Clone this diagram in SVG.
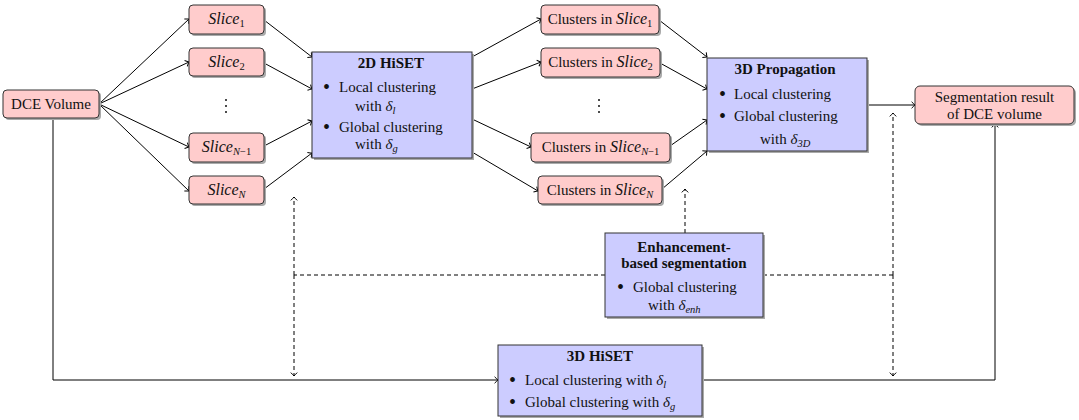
<svg xmlns="http://www.w3.org/2000/svg" width="1079" height="420" viewBox="0 0 1079 420" font-family="'Liberation Serif', 'DejaVu Serif', 'Times New Roman', serif">
<defs>
<marker id="arr" viewBox="-5 -5 10 10" refX="0" refY="0" markerWidth="10" markerHeight="10" markerUnits="userSpaceOnUse" orient="auto">
<path d="M-3.4,-3.2 Q-0.8,-0.6 0,0 Q-0.8,0.6 -3.4,3.2" fill="none" stroke="#000" stroke-width="1"/>
</marker>
</defs>
<style>
.pink{fill:#ffcccc;stroke:#333;stroke-width:1}
.blue{fill:#ccccff;stroke:#333;stroke-width:1}
.sh{fill:#aaaaaa}
text{font-family:'Liberation Serif','DejaVu Serif','Times New Roman',serif;font-size:15px;fill:#111}
.it{font-style:italic}
.m{font-size:16px}
.sub{font-size:10.5px}
.b{font-weight:bold}
.c{text-anchor:middle}
.bul{font-size:20px}
.con{fill:none;stroke:#000;stroke-width:1}
.ar{marker-end:url(#arr)}
.dash{stroke-dasharray:4 3}
.dot{fill:#111}
</style>
<rect width="1079" height="420" fill="#fff"/>

<g id="connectors">
<path class="con ar" d="M99,104 L189,19"/>
<path class="con ar" d="M99,104 L189,62"/>
<path class="con ar" d="M99,104 L189,147"/>
<path class="con ar" d="M99,104 L189,191"/>
<path class="con ar" d="M264,20 L312,57"/>
<path class="con ar" d="M264,63 L312,89"/>
<path class="con ar" d="M264,146 L312,121"/>
<path class="con ar" d="M264,189 L312,153"/>
<path class="con ar" d="M472,57 L541,19"/>
<path class="con ar" d="M472,89 L541,62"/>
<path class="con ar" d="M472,119 L531,147"/>
<path class="con ar" d="M472,152 L538,191"/>
<path class="con ar" d="M659,20 L707,57"/>
<path class="con ar" d="M660,63 L707,89"/>
<path class="con ar" d="M670,146 L707,120"/>
<path class="con ar" d="M662,189 L707,151"/>
<path class="con ar" d="M867,105 L915,105"/>
<path class="con ar" d="M53,118 L53,380 L498,380"/>
<path class="con ar" d="M702,380 L995,380 L995,124"/>
<path class="con dash" d="M605,275 L294,275"/>
<path class="con dash" d="M763,275 L893,275"/>
<path class="con dash ar" d="M294,275 L294,197"/>
<path class="con dash ar" d="M294,275 L294,376"/>
<path class="con dash ar" d="M893,275 L893,113"/>
<path class="con dash ar" d="M893,275 L893,376"/>
<path class="con dash ar" d="M685,233 L685,189"/>
</g>

<g id="dce">
<rect class="sh" x="5" y="92" width="96" height="28" rx="4"/>
<rect class="pink" x="3" y="90" width="96" height="28" rx="4"/>
<text class="c" x="51" y="109">DCE Volume</text>
</g>

<g id="slice1">
<rect class="sh" x="191" y="7" width="75" height="29" rx="4"/>
<rect class="pink" x="189" y="5" width="75" height="29" rx="4"/>
<text class="c" x="226.5" y="24"><tspan class="it m">Slice</tspan><tspan class="sub" dy="3">1</tspan></text>
</g>
<g id="slice2">
<rect class="sh" x="191" y="50" width="75" height="28" rx="4"/>
<rect class="pink" x="189" y="48" width="75" height="28" rx="4"/>
<text class="c" x="226.5" y="67"><tspan class="it m">Slice</tspan><tspan class="sub" dy="3">2</tspan></text>
</g>
<g id="vdots1">
<circle class="dot" cx="226" cy="100" r="1"/><circle class="dot" cx="226" cy="106" r="1"/><circle class="dot" cx="226" cy="112" r="1"/>
</g>
<g id="sliceN1">
<rect class="sh" x="191" y="135" width="75" height="29" rx="4"/>
<rect class="pink" x="189" y="133" width="75" height="29" rx="4"/>
<text class="c" x="226.5" y="152"><tspan class="it m">Slice</tspan><tspan class="sub it" dy="3">N</tspan><tspan class="sub">−1</tspan></text>
</g>
<g id="sliceN">
<rect class="sh" x="191" y="178" width="75" height="28" rx="4"/>
<rect class="pink" x="189" y="176" width="75" height="28" rx="4"/>
<text class="c" x="226.5" y="195"><tspan class="it m">Slice</tspan><tspan class="sub it" dy="3">N</tspan></text>
</g>

<g id="hiset2d">
<rect class="sh" x="314" y="54" width="160" height="106"/>
<rect class="blue" x="312" y="52" width="160" height="106"/>
<text class="c b" x="391" y="68">2D HiSET</text>
<text class="bul" x="323" y="94">•</text><text x="339" y="92">Local clustering</text>
<text x="355" y="111">with <tspan class="it">δ</tspan><tspan class="sub it" dy="3">l</tspan></text>
<text class="bul" x="323" y="134">•</text><text x="339" y="132">Global clustering</text>
<text x="355" y="149">with <tspan class="it">δ</tspan><tspan class="sub it" dy="3">g</tspan></text>
</g>

<g id="clusters1">
<rect class="sh" x="543" y="7" width="118" height="29" rx="4"/>
<rect class="pink" x="541" y="5" width="118" height="29" rx="4"/>
<text class="c" x="600" y="24">Clusters in <tspan class="it m">Slice</tspan><tspan class="sub" dy="3">1</tspan></text>
</g>
<g id="clusters2">
<rect class="sh" x="543" y="50" width="119" height="29" rx="4"/>
<rect class="pink" x="541" y="48" width="119" height="29" rx="4"/>
<text class="c" x="600.5" y="67">Clusters in <tspan class="it m">Slice</tspan><tspan class="sub" dy="3">2</tspan></text>
</g>
<g id="vdots2">
<circle class="dot" cx="599" cy="100" r="1"/><circle class="dot" cx="599" cy="106" r="1"/><circle class="dot" cx="599" cy="112" r="1"/>
</g>
<g id="clustersN1">
<rect class="sh" x="533" y="135" width="139" height="29" rx="4"/>
<rect class="pink" x="531" y="133" width="139" height="29" rx="4"/>
<text class="c" x="600.5" y="152">Clusters in <tspan class="it m">Slice</tspan><tspan class="sub it" dy="3">N</tspan><tspan class="sub">−1</tspan></text>
</g>
<g id="clustersN">
<rect class="sh" x="540" y="178" width="124" height="28" rx="4"/>
<rect class="pink" x="538" y="176" width="124" height="28" rx="4"/>
<text class="c" x="600" y="195">Clusters in <tspan class="it m">Slice</tspan><tspan class="sub it" dy="3">N</tspan></text>
</g>

<g id="prop3d">
<rect class="sh" x="709" y="60" width="160" height="93"/>
<rect class="blue" x="707" y="58" width="160" height="93"/>
<text class="c b" x="785" y="74">3D Propagation</text>
<text class="bul" x="719" y="101">•</text><text x="734" y="99">Local clustering</text>
<text class="bul" x="719" y="123">•</text><text x="734" y="121">Global clustering</text>
<text x="760" y="144">with <tspan class="it">δ</tspan><tspan class="sub it" dy="3">3D</tspan></text>
</g>

<g id="segresult">
<rect class="sh" x="917" y="88" width="159" height="38" rx="5"/>
<rect class="pink" x="915" y="86" width="159" height="38" rx="5"/>
<text class="c" x="994.5" y="102">Segmentation result</text>
<text class="c" x="994.5" y="119">of DCE volume</text>
</g>

<g id="enhancement">
<rect class="sh" x="607" y="235" width="158" height="84"/>
<rect class="blue" x="605" y="233" width="158" height="84"/>
<text class="c b" x="684" y="252">Enhancement-</text>
<text class="c b" x="684" y="268">based segmentation</text>
<text class="bul" x="617" y="294">•</text><text x="633" y="292">Global clustering</text>
<text x="648" y="310">with <tspan class="it">δ</tspan><tspan class="sub it" dy="3">enh</tspan></text>
</g>

<g id="hiset3d">
<rect class="sh" x="500" y="347" width="204" height="71"/>
<rect class="blue" x="498" y="345" width="204" height="71"/>
<text class="c b" x="600" y="361">3D HiSET</text>
<text class="bul" x="509" y="387">•</text><text x="525" y="385">Local clustering with <tspan class="it">δ</tspan><tspan class="sub it" dy="3">l</tspan></text>
<text class="bul" x="509" y="409">•</text><text x="525" y="407">Global clustering with <tspan class="it">δ</tspan><tspan class="sub it" dy="3">g</tspan></text>
</g>
</svg>
